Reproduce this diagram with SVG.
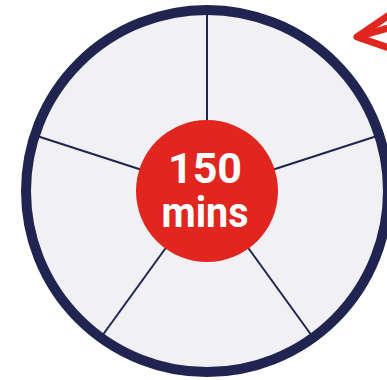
<svg xmlns="http://www.w3.org/2000/svg" width="387" height="380" viewBox="0 0 387 380">
<style>
.spoke{stroke:#1f2550;stroke-width:2;fill:none}
.lbl{font-family:Roboto,"Liberation Sans",sans-serif;font-weight:700;fill:#ffffff;text-anchor:middle}
.arr{fill:none;stroke:#e1261f;stroke-width:7;stroke-linecap:butt}
</style>
<rect width="387" height="380" fill="#ffffff"/>
<g id="dial">
<circle cx="207" cy="191" r="181" fill="#f0f0f5" stroke="#1f2550" stroke-width="10"/>
</g>
<g id="connectors">
<line class="spoke" x1="207" y1="191" x2="207" y2="12"/>
<line class="spoke" x1="207" y1="191" x2="377" y2="136"/>
<line class="spoke" x1="207" y1="191" x2="312" y2="336"/>
<line class="spoke" x1="207" y1="191" x2="102" y2="336"/>
<line class="spoke" x1="207" y1="191" x2="37" y2="136"/>
</g>
<g id="center">
<circle cx="207" cy="191" r="71" fill="#e1261f"/>
<text class="lbl" x="205" y="182.5" font-size="43">150</text>
<text class="lbl" x="205" y="227" font-size="43" textLength="87" lengthAdjust="spacingAndGlyphs">mins</text>
</g>
<g id="arrow">
<path class="arr" d="M392 13 L357 37 L392 49" stroke-linejoin="round"/>
<path class="arr" d="M357 37 L392 27"/>
</g>
</svg>
